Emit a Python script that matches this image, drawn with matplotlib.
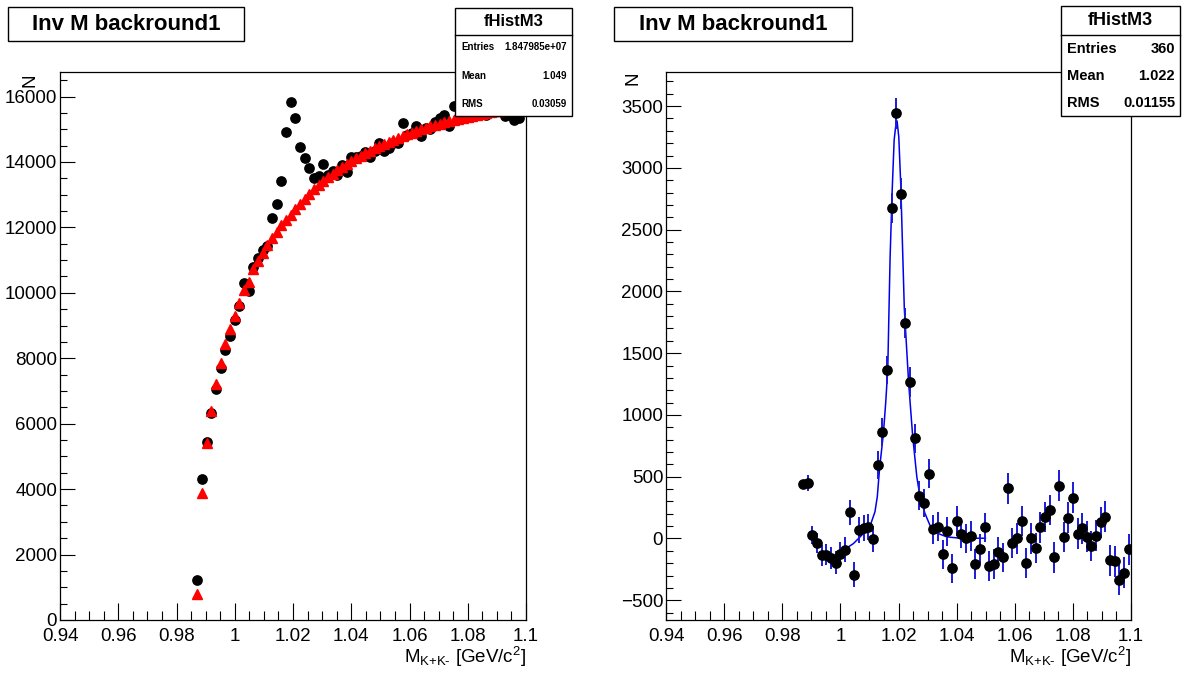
import numpy as np
import matplotlib
matplotlib.use("Agg")
import matplotlib.pyplot as plt
from matplotlib.patches import Rectangle
from matplotlib.lines import Line2D
from matplotlib.ticker import MultipleLocator, FuncFormatter

plt.rcParams['font.family'] = 'Liberation Sans'
plt.rcParams['mathtext.fontset'] = 'custom'
plt.rcParams['mathtext.rm'] = 'Liberation Sans'
plt.rcParams['mathtext.it'] = 'Liberation Sans:italic'

# histogram binning : 100 bins from 0.94 to 1.1, bins 29..99 are filled
bin_lo, bin_w = 0.94, 0.0016
bins = np.arange(29, 100)
mass = bin_lo + (bins + 0.5) * bin_w

# left pad : data (black) and mixed-event background (red)
data_counts = [1235, 4323, 5432, 6342, 7070, 7717, 8268, 8692, 9162, 9592, 10299, 10051,
               10790, 11062, 11322, 11445, 12274, 12730, 13425, 14912, 15832, 15352, 14457,
               14126, 13821, 13505, 13577, 13944, 13605, 13734, 13613, 13899, 13687, 14160,
               14150, 14190, 14291, 14142, 14333, 14579, 14335, 14412, 14571, 14586, 15205,
               14817, 14900, 15090, 14802, 15045, 15014, 15219, 15345, 15440, 15096, 15712,
               15333, 15522, 15714, 15455, 15526, 15483, 15435, 15541, 15675, 15740, 15409,
               15421, 15287, 15359, 15561]
bkg_counts = [795, 3873, 5402, 6380, 7205, 7847, 8428, 8887, 9290, 9682, 10088, 10343,
              10720, 10980, 11230, 11450, 11680, 11870, 12060, 12240, 12390, 12560, 12710,
              12860, 13010, 13160, 13290, 13420, 13530, 13640, 13740, 13840, 13930, 14020,
              14110, 14190, 14270, 14350, 14420, 14490, 14560, 14620, 14680, 14740, 14800,
              14850, 14900, 14950, 15000, 15045, 15090, 15130, 15170, 15210, 15250, 15285,
              15320, 15355, 15385, 15415, 15445, 15470, 15495, 15520, 15545, 15565, 15585,
              15605, 15620, 15635, 15650]

# right pad : background subtracted signal
signal = [440, 450, 30, -38, -135, -130, -160, -195, -128, -90, 211, -292, 70, 82, 92, -5,
          594, 860, 1365, 2672, 3442, 2792, 1747, 1266, 811, 345, 287, 524, 75, 94, -127,
          59, -243, 140, 40, 0, 21, -208, -87, 89, -225, -208, -109, -154, 405, -33, 0, 140,
          -198, 0, -76, 89, 175, 230, -154, 427, 13, 167, 329, 40, 81, 13, -60, 21, 130, 175,
          -176, -184, -333, -276, -89]
signal_err = np.sqrt(data_counts)

# fit curve (blue)
fit_x = [0.9993, 1.0045, 1.0068, 1.0102, 1.0119, 1.0127, 1.0135, 1.0148, 1.0156, 1.0163,
         1.0171, 1.0178, 1.0185, 1.0190, 1.0195, 1.0201, 1.0208, 1.0214, 1.0220, 1.0235,
         1.0249, 1.0263, 1.0274, 1.0291, 1.0308, 1.0331, 1.0366, 1.0412, 1.0499]
fit_y = [-122, -41, 13, 100, 216, 337, 570, 849, 1100, 1365, 2268, 2800, 3225, 3330, 3380,
         3250, 2849, 2350, 1863, 1255, 822, 500, 337, 203, 108, 45, 13, 2, 2]

W, H = 1183, 673
fig = plt.figure(figsize=(W / 100, H / 100), dpi=100)


def fbox(x0, y0, x1, y1):
    return [x0 / W, 1 - y1 / H, (x1 - x0) / W, (y1 - y0) / H]


ax1 = fig.add_axes(fbox(60, 72, 526, 620))
ax2 = fig.add_axes(fbox(666, 72, 1131, 620))

ax1.plot(mass, data_counts, 'o', color='black', ms=6.7, zorder=3)
ax1.plot(mass, bkg_counts, '^', color='#ff0000', ms=6.8, mec='#ff0000', zorder=4)
ax1.set_ylim(0, 16750)
ax1.yaxis.set_major_locator(MultipleLocator(2000))
ax1.yaxis.set_minor_locator(MultipleLocator(500))
ax1.yaxis.set_major_formatter(FuncFormatter(lambda v, p: '%d' % v))

ax2.plot(fit_x, fit_y, color='#0000ee', lw=1.1, zorder=2)
ax2.errorbar(mass, signal, yerr=signal_err, fmt='o', color='black', ms=6.7,
             ecolor='#1a1ad8', elinewidth=1.4, capsize=0, zorder=3)
ax2.set_ylim(-660, 3776)
ax2.yaxis.set_major_locator(MultipleLocator(500))
ax2.yaxis.set_minor_locator(MultipleLocator(100))
ax2.yaxis.set_major_formatter(FuncFormatter(lambda v, p: ('%d' % v).replace('-', '\u2212')))

for ax in (ax1, ax2):
    ax.set_xlim(0.94, 1.1)
    ax.xaxis.set_major_locator(MultipleLocator(0.02))
    ax.xaxis.set_minor_locator(MultipleLocator(0.005))
    ax.xaxis.set_major_formatter(FuncFormatter(lambda v, p: '%g' % round(v, 3)))
    ax.tick_params(axis='x', which='major', direction='in', length=12.5, width=0.8,
                   top=False, labelsize=13.5, pad=6)
    ax.tick_params(axis='x', which='minor', direction='in', length=6.7, width=0.8, top=False)
    ax.tick_params(axis='y', which='major', direction='in', length=10.6, width=0.8,
                   right=False, labelsize=13.5, pad=2)
    ax.tick_params(axis='y', which='minor', direction='in', length=5.3, width=0.8, right=False)
    for s in ax.spines.values():
        s.set_linewidth(0.9)

# axis titles
for xr, xn, yn in ((526, 30, 80), (1131, 633, 78)):
    fig.text(xr / W, 1 - 657 / H, r'M$_{\mathrm{K{+}K\text{-}}}$ [GeV/c$^{\mathrm{2}}$]',
             ha='right', va='center', fontsize=13.5)
    fig.text(xn / W, 1 - yn / H, 'N', rotation=90, ha='center', va='center', fontsize=13.5)


def box(x0, y0, x1, y1):
    r = Rectangle((x0 / W, 1 - y1 / H), (x1 - x0) / W, (y1 - y0) / H,
                  transform=fig.transFigure, facecolor='white', edgecolor='black',
                  lw=1.0, zorder=10)
    fig.patches.append(r)


def hline(x0, x1, y):
    fig.lines.append(Line2D([x0 / W, x1 / W], [1 - y / H, 1 - y / H],
                            transform=fig.transFigure, color='black', lw=1.0, zorder=11))


# pad titles
for x0, x1 in ((8, 244), (614, 852)):
    box(x0, 7, x1, 41)
    fig.text((x0 + x1) / 2 / W, 1 - 24 / H, 'Inv M backround1', ha='center', va='center',
             fontsize=16, fontweight='bold', zorder=12)

# stat boxes
stats = [
    ((455, 8, 572, 116), 34.5, 12, 7,
     [('Entries', '1.847985e+07', 47), ('Mean', '1.049', 76), ('RMS', '0.03059', 104)]),
    ((1061, 6, 1180, 116), 35, 13, 10.5,
     [('Entries', '360', 49), ('Mean', '1.022', 76), ('RMS', '0.01155', 103)]),
]
for (x0, y0, x1, y1), ydiv, tsize, rsize, rows in stats:
    box(x0, y0, x1, y1)
    hline(x0, x1, ydiv)
    fig.text((x0 + x1) / 2 / W, 1 - (y0 + ydiv) / 2 / H, 'fHistM3', ha='center', va='center',
             fontsize=tsize, fontweight='bold', zorder=12)
    for name, val, yy in rows:
        fig.text((x0 + 6) / W, 1 - yy / H, name, ha='left', va='center',
                 fontsize=rsize, fontweight='bold', zorder=12)
        fig.text((x1 - 5) / W, 1 - yy / H, val, ha='right', va='center',
                 fontsize=rsize, fontweight='bold', zorder=12)

fig.savefig('out.png', dpi=100)
